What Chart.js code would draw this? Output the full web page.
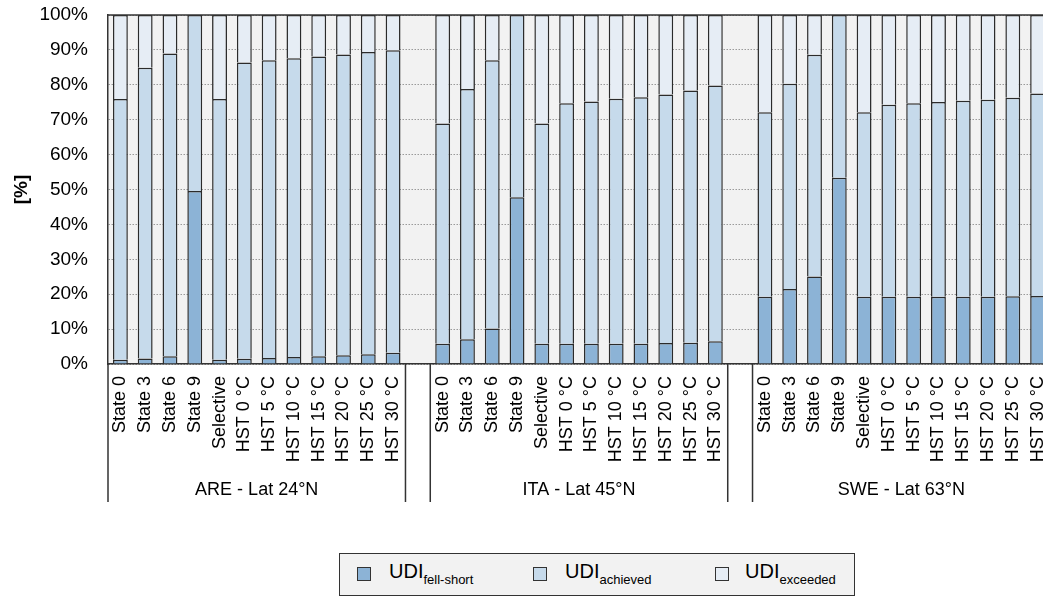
<!DOCTYPE html>
<html>
<head>
<meta charset="utf-8">
<script src="https://cdn.jsdelivr.net/npm/chart.js@4"></script>
<style>
  html, body { margin: 0; padding: 0; background: #ffffff; overflow: hidden; }
  #wrap { position: relative; width: 1070px; height: 597px; }
  #legend {
    position: absolute; left: 339px; top: 553px; width: 514px; height: 41px;
    background: #f2f2f2; border: 1.5px solid #333; box-sizing: content-box;
    font-family: "Liberation Sans", Arial, sans-serif; color: #000;
  }
  .item { position: absolute; top: 0; height: 41px; }
  .mk { position: absolute; top: 13px; width: 12px; height: 12px; border: 1.5px solid #333; }
  .tx { position: absolute; top: 6px; font-size: 20px; white-space: nowrap; }
  .tx sub { font-size: 13px; vertical-align: -6px; }
</style>
</head>
<body>
<div id="wrap">
  <canvas id="c" width="1070" height="597"></canvas>
  <div id="legend">
    <div class="item" style="left:17px"><div class="mk" style="background:#8cb3d6"></div><div class="tx" style="left:32px">UDI<sub>fell-short</sub></div></div>
    <div class="item" style="left:193px"><div class="mk" style="background:#c6daeb"></div><div class="tx" style="left:32px">UDI<sub>achieved</sub></div></div>
    <div class="item" style="left:375px"><div class="mk" style="background:#e6edf5"></div><div class="tx" style="left:30px">UDI<sub>exceeded</sub></div></div>
  </div>
</div>
<script>
// ---- data ----
const scenarios = ["State 0","State 3","State 6","State 9","Selective","HST 0 °C","HST 5 °C","HST 10 °C","HST 15 °C","HST 20 °C","HST 25 °C","HST 30 °C"];
const groups = ["ARE - Lat 24°N","ITA - Lat 45°N","SWE - Lat 63°N"];
const yTicks = [0,10,20,30,40,50,60,70,80,90,100];

const areFell     = [1.2, 1.6, 2.2, 49.6, 1.2, 1.5, 1.7, 2.0, 2.2, 2.5, 2.8, 3.2];
const areAchieved = [74.7, 83.3, 86.8, 50.4, 74.7, 84.9, 85.3, 85.6, 85.9, 86.2, 86.6, 86.7];
const areExceeded = [24.1, 15.1, 11.0, 0, 24.1, 13.6, 13.0, 12.4, 11.9, 11.3, 10.6, 10.1];

const itaFell     = [5.8, 7.1, 10.2, 47.8, 5.8, 5.8, 5.8, 5.8, 5.8, 6.0, 6.1, 6.5];
const itaAchieved = [63.1, 71.7, 76.8, 52.2, 63.1, 68.9, 69.4, 70.2, 70.6, 71.2, 72.3, 73.3];
const itaExceeded = [31.1, 21.2, 13.0, 0, 31.1, 25.3, 24.8, 24.0, 23.6, 22.8, 21.6, 20.2];

const sweFell     = [19.3, 21.5, 25.1, 53.4, 19.3, 19.3, 19.3, 19.3, 19.3, 19.3, 19.4, 19.5];
const sweAchieved = [52.8, 58.8, 63.5, 46.6, 52.8, 55.0, 55.4, 55.8, 56.1, 56.4, 56.9, 58.0];
const sweExceeded = [27.9, 19.7, 11.4, 0, 27.9, 25.7, 25.3, 24.9, 24.6, 24.3, 23.7, 22.5];

// build category slots (empty slot between groups)
const labels = [].concat(scenarios, [""], scenarios, [""], scenarios);
const join = (a, b, c) => [].concat(a, [null], b, [null], c);
const fell = join(areFell, itaFell, sweFell);
const achieved = join(areAchieved, itaAchieved, sweAchieved);
const exceeded = join(areExceeded, itaExceeded, sweExceeded);

const FONT = "'Liberation Sans', Arial, sans-serif";

const bgPlugin = {
  id: 'bg',
  beforeDraw(chart) {
    const {ctx, chartArea: a} = chart;
    ctx.save();
    ctx.fillStyle = '#f2f2f2';
    ctx.fillRect(a.left, a.top, a.right - a.left, a.bottom - a.top);
    ctx.restore();
  },
  afterDraw(chart) {
    const {ctx, chartArea: a} = chart;
    const x = chart.scales.x;
    ctx.save();
    ctx.strokeStyle = '#333';
    ctx.lineWidth = 1.5;
    ctx.beginPath();
    ctx.moveTo(a.left, a.top); ctx.lineTo(a.right, a.top);
    ctx.stroke();
    const slot = x.getPixelForValue(1) - x.getPixelForValue(0);
    ctx.fillStyle = '#000';
    ctx.font = "18px " + FONT;
    ctx.textAlign = 'center';
    ctx.textBaseline = 'middle';
    groups.forEach((g, i) => {
      const s = i * (scenarios.length + 1);
      const xl = x.getPixelForValue(s) - slot / 2;
      const xr = x.getPixelForValue(s + scenarios.length - 1) + slot / 2;
      ctx.beginPath();
      ctx.moveTo(xl, a.bottom); ctx.lineTo(xl, 502);
      ctx.moveTo(xr, a.bottom); ctx.lineTo(xr, 502);
      ctx.stroke();
      ctx.fillText(g, (xl + xr) / 2, 490);
    });
    ctx.restore();
  }
};

const common = { borderColor: '#2b2b2b', borderWidth: 1.5, categoryPercentage: 1.0, barPercentage: 0.6 };

new Chart(document.getElementById('c'), {
  type: 'bar',
  data: {
    labels: labels,
    datasets: [
      Object.assign({ label: 'UDI fell-short', data: fell, backgroundColor: '#8cb3d6' }, common),
      Object.assign({ label: 'UDI achieved', data: achieved, backgroundColor: '#c6daeb' }, common),
      Object.assign({ label: 'UDI exceeded', data: exceeded, backgroundColor: '#e6edf5' }, common)
    ]
  },
  plugins: [bgPlugin],
  options: {
    responsive: false,
    animation: false,
    layout: { padding: { left: 0, top: 15, right: 20, bottom: 0 } },
    plugins: { legend: { display: false }, tooltip: { enabled: false } },
    scales: {
      x: {
        stacked: true,
        grid: { display: false, drawTicks: false },
        border: { display: true, color: '#333', width: 1.5 },
        ticks: {
          autoSkip: false, maxRotation: 90, minRotation: 90, padding: 12,
          color: '#000', font: { family: FONT, size: 18 }
        },
        afterFit(s) { s.height = 597 - 364; s.paddingLeft = 0; s.paddingRight = 0; }
      },
      y: {
        stacked: true,
        min: 0, max: 100,
        afterBuildTicks(s) { s.ticks = yTicks.map(v => ({ value: v })); },
        grid: { color: '#9a9a9a', lineWidth: 1, drawTicks: false },
        border: { display: true, color: '#333', width: 1.5, dash: [1.5, 1.5] },
        ticks: {
          padding: 20, color: '#000', font: { family: FONT, size: 19 },
          callback: v => v + '%'
        },
        title: { display: true, text: '[%]', color: '#000', font: { family: FONT, size: 19, weight: 'bold' }, padding: { top: 10, bottom: 0 } },
        afterFit(s) { s.width = 108; s.paddingTop = 0; s.paddingBottom = 0; }
      }
    }
  }
});
</script>
</body>
</html>
